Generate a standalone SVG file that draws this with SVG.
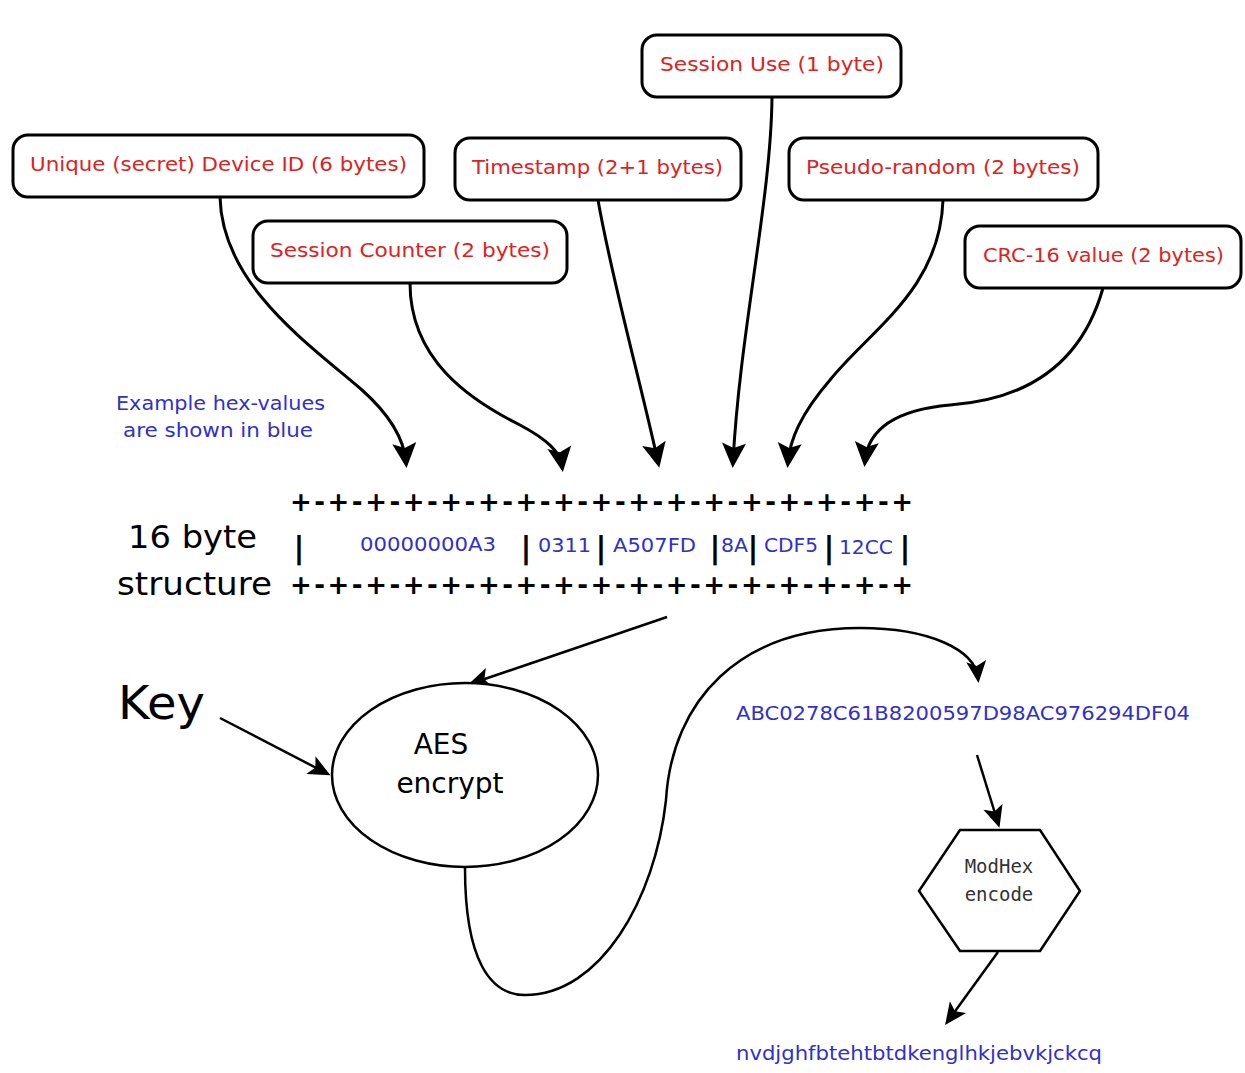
<svg xmlns="http://www.w3.org/2000/svg" width="1245" height="1073" viewBox="0 0 1245 1073">
<style>
.box{fill:#fff;stroke:#000;stroke-width:3}
.lbl{font-family:"DejaVu Sans",sans-serif;font-size:20px;fill:#dd2222;text-anchor:middle}
.blue{font-family:"DejaVu Sans",sans-serif;font-size:20px;fill:#3030cc}
.con{fill:none;stroke:#000;stroke-width:3}
.thin{fill:none;stroke:#000;stroke-width:2.5}
.big{font-family:"DejaVu Sans",sans-serif;fill:#000}
.row{font-family:"DejaVu Sans",sans-serif;font-size:26px;font-weight:bold;fill:#000}
.mono{font-family:"DejaVu Sans Mono",monospace;font-size:19px;fill:#333;text-anchor:middle}
</style>
<defs>
<marker id="ah" markerUnits="userSpaceOnUse" markerWidth="40" markerHeight="40" viewBox="-30 -15 40 30" refX="0" refY="0" orient="auto">
<path d="M6,0 L-19,-12 L-14,0 L-19,12 Z" fill="#000"/>
</marker>
<marker id="ahs" markerUnits="userSpaceOnUse" markerWidth="40" markerHeight="40" viewBox="-30 -15 40 30" refX="0" refY="0" orient="auto">
<path d="M5,0 L-17,-10 L-12,0 L-17,10 Z" fill="#000"/>
</marker>
</defs>
<rect width="1245" height="1073" fill="#fff"/>

<g id="connectors">
<path class="con" marker-end="url(#ah)" d="M220,197 C222,285 310,345 362,390 C390,415 404,440 406,462"/>
<path class="con" marker-end="url(#ah)" d="M410,283 C410,360 470,400 520,425 C548,440 560,452 562,466"/>
<path class="con" marker-end="url(#ah)" d="M598,200 C612,280 640,380 658,462"/>
<path class="con" marker-end="url(#ah)" d="M772,97 C771,200 740,330 733,462"/>
<path class="con" marker-end="url(#ah)" d="M943,200 C940,290 870,330 830,380 C800,415 790,440 788,462"/>
<path class="con" marker-end="url(#ah)" d="M1103,288 C1080,370 1020,400 950,405 C895,410 868,430 865,461"/>
<path class="thin" marker-end="url(#ahs)" d="M667,617 L473,683"/>
<path class="thin" marker-end="url(#ahs)" d="M220,718 L326,773"/>
<path class="thin" marker-end="url(#ahs)" d="M465,868 C465,960 490,995 525,995 C600,995 655,900 666,800 C672,700 740,628 860,628 C930,628 975,650 978,678"/>
<path class="thin" marker-end="url(#ahs)" d="M977,755 L998,823"/>
<path class="thin" marker-end="url(#ahs)" d="M998,952 L948,1021"/>
</g>

<g id="n-unique">
<rect class="box" x="13" y="135" width="411" height="62" rx="15"/>
<text class="lbl" x="218.5" y="171" textLength="377" lengthAdjust="spacingAndGlyphs">Unique (secret) Device ID (6 bytes)</text>
</g>
<g id="n-counter">
<rect class="box" x="253" y="221" width="314" height="62" rx="15"/>
<text class="lbl" x="410" y="257" textLength="280" lengthAdjust="spacingAndGlyphs">Session Counter (2 bytes)</text>
</g>
<g id="n-timestamp">
<rect class="box" x="455" y="138" width="286" height="62" rx="15"/>
<text class="lbl" x="597.5" y="174" textLength="251" lengthAdjust="spacingAndGlyphs">Timestamp (2+1 bytes)</text>
</g>
<g id="n-use">
<rect class="box" x="642" y="35" width="259" height="62" rx="15"/>
<text class="lbl" x="772" y="71" textLength="224" lengthAdjust="spacingAndGlyphs">Session Use (1 byte)</text>
</g>
<g id="n-random">
<rect class="box" x="789" y="138" width="309" height="62" rx="15"/>
<text class="lbl" x="943" y="174" textLength="274" lengthAdjust="spacingAndGlyphs">Pseudo-random (2 bytes)</text>
</g>
<g id="n-crc">
<rect class="box" x="965" y="226" width="276" height="62" rx="15"/>
<text class="lbl" x="1103.5" y="262" textLength="241" lengthAdjust="spacingAndGlyphs">CRC-16 value (2 bytes)</text>
</g>

<g id="note">
<text class="blue" x="116" y="410" textLength="209" lengthAdjust="spacingAndGlyphs">Example hex-values</text>
<text class="blue" x="123" y="437" textLength="190" lengthAdjust="spacingAndGlyphs">are shown in blue</text>
</g>

<g id="structure">
<text class="big" x="128" y="548" font-size="32" textLength="129" lengthAdjust="spacingAndGlyphs">16 byte</text>
<text class="big" x="117" y="595" font-size="32" textLength="155" lengthAdjust="spacingAndGlyphs">structure</text>
<text class="row" x="290" y="511" textLength="623" lengthAdjust="spacing">+-+-+-+-+-+-+-+-+-+-+-+-+-+-+-+-+</text>
<text class="row" x="290" y="594" textLength="623" lengthAdjust="spacing">+-+-+-+-+-+-+-+-+-+-+-+-+-+-+-+-+</text>
<g class="big" font-size="30" font-weight="bold" text-anchor="middle">
<text x="299" y="558">|</text>
<text x="526" y="558">|</text>
<text x="601" y="558">|</text>
<text x="715" y="558">|</text>
<text x="753" y="558">|</text>
<text x="829" y="558">|</text>
<text x="905" y="558">|</text>
</g>
<text class="blue" x="360" y="551" textLength="136" lengthAdjust="spacingAndGlyphs">00000000A3</text>
<text class="blue" x="538" y="552" textLength="53" lengthAdjust="spacingAndGlyphs">0311</text>
<text class="blue" x="613" y="552" textLength="83" lengthAdjust="spacingAndGlyphs">A507FD</text>
<text class="blue" x="721" y="552" textLength="27" lengthAdjust="spacingAndGlyphs">8A</text>
<text class="blue" x="764" y="552" textLength="54" lengthAdjust="spacingAndGlyphs">CDF5</text>
<text class="blue" x="839" y="554" textLength="54" lengthAdjust="spacingAndGlyphs">12CC</text>
</g>

<g id="n-key">
<text class="big" x="118" y="719" font-size="46" textLength="87" lengthAdjust="spacingAndGlyphs">Key</text>
</g>

<g id="n-aes">
<ellipse cx="465" cy="775" rx="133" ry="92" fill="#fff" stroke="#000" stroke-width="2.5"/>
<text class="big" x="441" y="754" font-size="28" text-anchor="middle">AES</text>
<text class="big" x="450" y="793" font-size="28" text-anchor="middle">encrypt</text>
</g>

<g id="n-cipher">
<text class="blue" x="736" y="720" textLength="454" lengthAdjust="spacingAndGlyphs">ABC0278C61B8200597D98AC976294DF04</text>
</g>

<g id="n-modhex">
<polygon points="919,891 960,830 1040,830 1080,891 1040,951 960,951" fill="#fff" stroke="#000" stroke-width="2.5"/>
<text class="mono" x="999" y="873">ModHex</text>
<text class="mono" x="999" y="901">encode</text>
</g>

<g id="n-output">
<text class="blue" x="736" y="1060" font-size="21" textLength="366" lengthAdjust="spacingAndGlyphs">nvdjghfbtehtbtdkenglhkjebvkjckcq</text>
</g>
</svg>
